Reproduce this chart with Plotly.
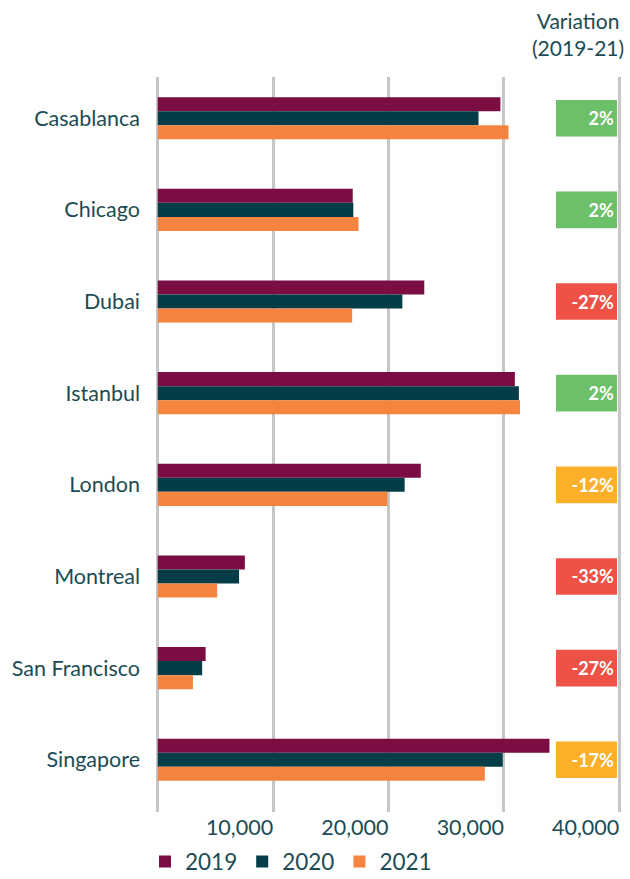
import plotly.graph_objects as go

cities = ["Casablanca", "Chicago", "Dubai", "Istanbul", "London", "Montreal", "San Francisco", "Singapore"]
v2019 = [29700, 16900, 23100, 30950, 22800, 7550, 4150, 33950]
v2020 = [27800, 16950, 21200, 31300, 21400, 7050, 3850, 29900]
v2021 = [30400, 17400, 16850, 31400, 19900, 5150, 3050, 28350]
variation = [2, 2, -27, 2, -12, -33, -27, -17]
years = ["2019", "2020", "2021"]
tick_vals = [10000, 20000, 30000, 40000]
tick_text = ["10,000", "20,000", "30,000", "40,000"]

col_year = ["#7b0d43", "#043c48", "#f4843e"]
text_col = "#1b4c54"
grid_col = "#c6c6c6"
FONT = "Lato"

def var_color(v):
    if v >= 0:
        return "#6cc06a"
    if v > -20:
        return "#fcb02a"
    return "#ee5246"

L, R = 156, 9
W = 630 - L - R

def px_to_paper(px):
    return (px - L) / W

fig = go.Figure()
for name, vals, c in zip(years, [v2019, v2020, v2021], col_year):
    fig.add_trace(go.Bar(y=cities, x=vals, name=name, orientation="h",
                         marker=dict(color=c, line=dict(width=0)), hoverinfo="skip"))

fig.add_trace(go.Bar(
    y=cities, x=[1] * len(cities), base=0, orientation="h",
    xaxis="x2", yaxis="y", width=0.4, offset=-0.2,
    marker=dict(color=[var_color(v) for v in variation], line=dict(width=0)),
    text=[f"{v}%" for v in variation], textposition="inside", insidetextanchor="end",
    textfont=dict(family=FONT, size=18, color="white", weight="bold"),
    showlegend=False, hoverinfo="skip", cliponaxis=False,
))

fig.update_layout(
    width=630, height=879,
    margin=dict(l=L, r=R, t=77, b=67, autoexpand=False),
    paper_bgcolor="white", plot_bgcolor="white",
    barmode="group", bargap=0.54, bargroupgap=0,
    font=dict(family=FONT, color=text_col),
    xaxis=dict(range=[-150, 40150], tickvals=tick_vals, ticktext=tick_text,
               showgrid=True, gridcolor=grid_col, gridwidth=2.5,
               zeroline=True, zerolinecolor=grid_col, zerolinewidth=2.5,
               showline=False, ticks="", automargin=False,
               ticklabelposition="outside left",
               tickfont=dict(size=21.5, color=text_col), fixedrange=True),
    xaxis2=dict(domain=[px_to_paper(556), px_to_paper(617)], range=[0, 1], anchor="y",
                visible=False, showgrid=False, fixedrange=True),
    yaxis=dict(categoryorder="array", categoryarray=cities,
               range=[7.57, -0.45], showgrid=False, zeroline=False,
               ticks="", ticklabelstandoff=15, automargin=False,
               tickfont=dict(size=21.5, color=text_col), fixedrange=True),
    legend=dict(orientation="h", x=px_to_paper(145), xanchor="left", y=-0.068, yanchor="middle",
                font=dict(size=22.5, color=text_col), traceorder="normal",
                itemwidth=30),
)

fig.add_annotation(text="Variation<br>(2019-21)", xref="paper", yref="paper",
                   x=px_to_paper(578), y=1.059, xanchor="center", yanchor="middle",
                   showarrow=False, align="center",
                   font=dict(family=FONT, size=21, color=text_col))

fig.write_html("out.html", config={"displayModeBar": False},
               post_script="document.body.style.margin='0';document.body.style.overflow='hidden';")
